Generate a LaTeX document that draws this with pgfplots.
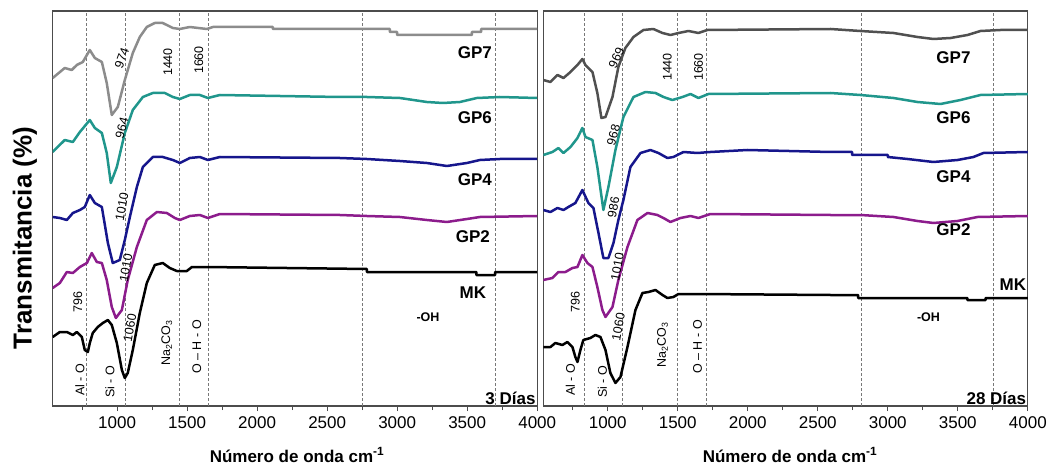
\documentclass[border=0pt]{standalone}
\usepackage{fontspec}
\setmainfont{Liberation Sans}
\usepackage{pgfplots}
\pgfplotsset{compat=1.18}

\definecolor{gpsevenA}{RGB}{140,140,140}
\definecolor{gpsevenB}{RGB}{80,80,80}
\definecolor{gpsix}{RGB}{32,150,140}
\definecolor{gpfour}{RGB}{22,22,140}
\definecolor{gptwo}{RGB}{140,28,140}
\definecolor{refline}{RGB}{120,120,120}

\tikzset{
  gp/.style={font=\bfseries\fontsize{17}{17}\selectfont},
  pk/.style={font=\fontsize{12.5}{12.5}\selectfont},
  pkb/.style={font=\bfseries\fontsize{12.5}{12.5}\selectfont},
}

\pgfplotsset{
  panel/.style={
    scale only axis, width=484.5pt, height=395pt, anchor=south west,
    xmin=540, xmax=4000, ymin=63, ymax=458,
    xtick={1000,1500,2000,2500,3000,3500,4000},
    xticklabels={1000,1500,2000,2500,3000,3500,4000},
    minor xtick={750,1250,1750,2250,2750,3250,3750},
    ytick=\empty, xtick pos=left,
    tick align=outside, major tick length=5pt, minor tick length=4pt,
    axis line style={line width=1.2pt, black!70},
    every tick/.style={black!70, line width=1pt},
    tick label style={font=\fontsize{17}{17}\selectfont, black},
    xticklabel style={yshift=-2pt},
  },
  spec/.style={line width=2.5pt, line join=round, no marks},
  band/.style={line width=0.6pt, refline, dash pattern=on 3pt off 2pt, no marks},
}

\begin{document}
\begin{tikzpicture}
\path[use as bounding box] (0,0) rectangle (1051pt,469pt);

% ---------------- 3 days ----------------
\begin{axis}[panel, at={(52.7pt,63pt)}]
\foreach \w in {780,1060,1445,1650,2750,3700}{
  \edef\tmp{\noexpand\addplot[band] coordinates {(\w,63) (\w,458)};}\tmp
}
% GP7
\addplot[spec, gpsevenA] coordinates {
(540,391) (626,401) (676,399) (712,404) (755,407) (805,419) (841,411) (891,407)
(926,386) (962,354) (1005,362) (1055,389) (1112,416) (1162,432) (1212,442)
(1269,446) (1326,446) (1398,441) (1448,440) (1519,442) (1641,440) (1684,442)
(2112,442) (2112,440) (2948,440) (2948,437) (3000,437) (3000,434) (3533,434)
(3533,437) (3600,437) (3600,440) (4000,440)};
% GP6
\addplot[spec, gpsix] coordinates {
(540,317) (626,329) (684,327) (734,337) (805,349) (841,341) (891,336) (926,316)
(955,286) (998,302) (1055,336) (1112,359) (1184,372) (1255,376) (1341,376)
(1398,372) (1448,370) (1519,374) (1591,374) (1648,371) (1734,374) (2591,372)
(2784,372) (3019,371) (3212,367) (3326,366) (3448,367) (3569,371) (3733,372)
(4000,371)};
% GP4
\addplot[spec, gpfour] coordinates {
(540,252) (591,251) (641,249) (684,256) (734,259) (769,262) (805,274) (841,266)
(891,262) (934,226) (969,206) (1019,209) (1055,229) (1091,252) (1141,282)
(1184,302) (1255,312) (1326,312) (1398,309) (1448,306) (1519,311) (1591,312)
(1648,309) (1734,312) (2591,311) (2784,310) (3019,308) (3212,306) (3355,303)
(3498,306) (3591,309) (3733,310) (4000,310)};
% GP2
\addplot[spec, gptwo] coordinates {
(540,181) (591,186) (641,197) (684,196) (734,202) (784,206) (819,216) (855,207)
(891,206) (926,189) (962,162) (991,151) (1034,159) (1076,189) (1141,222)
(1212,249) (1284,257) (1355,256) (1412,251) (1448,249) (1519,253) (1591,254)
(1648,251) (1734,255) (2591,254) (2784,253) (3019,252) (3212,249) (3355,247)
(3498,250) (3591,252) (4000,253)};
% MK
\addplot[spec, black] coordinates {
(540,132) (591,137) (641,137) (684,134) (712,137) (748,132) (769,119) (791,117)
(805,126) (826,136) (862,142) (898,146) (934,149) (962,144) (998,126) (1034,99)
(1055,91) (1076,96) (1112,119) (1162,156) (1212,186) (1269,204) (1326,206)
(1376,201) (1426,198) (1498,198) (1534,202) (1641,202) (2784,200) (2784,197)
(3565,197) (3565,194) (3700,194) (3700,197) (4000,197)};

\node[pk, rotate=70] at (axis cs:1034,411) {974};
\node[pk, rotate=90] at (axis cs:1363,407) {1440};
\node[pk, rotate=90] at (axis cs:1584,409) {1660};
\node[pk, rotate=75] at (axis cs:1034,341) {964};
\node[pk, rotate=80] at (axis cs:1034,262) {1010};
\node[pk, rotate=80] at (axis cs:1063,201) {1010};
\node[pk, rotate=90] at (axis cs:719,167) {796};
\node[pk, rotate=80] at (axis cs:1091,141) {1060};
\node[pk, rotate=90] at (axis cs:734,89) {Al - O};
\node[pk, rotate=90] at (axis cs:948,87) {Si - O};
\node[pk, rotate=90] at (axis cs:1355,126) {Na\textsubscript{2}CO\textsubscript{3}};
\node[pk, rotate=90] at (axis cs:1569,122) {O -- H - O};
\node[pkb] at (axis cs:3220,152) {-OH};
\node[gp] at (axis cs:3555,416) {GP7};
\node[gp] at (axis cs:3555,351) {GP6};
\node[gp] at (axis cs:3555,289) {GP4};
\node[gp] at (axis cs:3541,232) {GP2};
\node[gp] at (axis cs:3541,176) {MK};
\node[gp, anchor=south east, inner sep=1.5pt] at (rel axis cs:1,0) {3 Días};
\end{axis}

% ---------------- 28 days ----------------
\begin{axis}[panel, at={(543.3pt,63pt)}]
\foreach \w in {830,1107,1500,1703,2812,3750}{
  \edef\tmp{\noexpand\addplot[band] coordinates {(\w,63) (\w,458)};}\tmp
}
% GP7
\addplot[spec, gpsevenB] coordinates {
(540,389) (591,387) (641,394) (684,391) (734,397) (784,404) (819,410) (841,404)
(891,397) (926,376) (955,351) (984,352) (1034,372) (1076,402) (1126,421)
(1184,432) (1255,439) (1326,440) (1391,436) (1448,434) (1505,436) (1576,438)
(1648,436) (1712,439) (2591,440) (2805,438) (3041,436) (3212,432) (3326,430)
(3448,431) (3569,434) (3662,438) (3805,439) (4000,439)};
% GP6
\addplot[spec, gpsix] coordinates {
(540,314) (605,317) (648,321) (684,316) (734,322) (784,331) (819,341) (841,332)
(891,329) (926,302) (969,259) (1005,282) (1055,319) (1112,352) (1184,372)
(1269,377) (1341,376) (1398,372) (1462,369) (1534,372) (1591,375) (1648,371)
(1719,375) (2591,376) (2805,374) (3041,371) (3212,367) (3376,365) (3519,369)
(3662,374) (4000,375)};
% GP4
\addplot[spec, gpfour] coordinates {
(540,259) (591,257) (641,261) (684,259) (719,262) (769,266) (819,279) (862,266)
(898,261) (934,236) (969,211) (1005,211) (1041,226) (1076,249) (1112,269)
(1162,302) (1234,316) (1305,319) (1362,316) (1426,311) (1469,312) (1541,317)
(1641,316) (1733,317) (1998,319) (2591,317) (2745,317) (2745,314) (3000,314)
(3000,312) (3141,310) (3326,307) (3498,309) (3612,312) (3683,316) (4000,317)};
% GP2
\addplot[spec, gptwo] coordinates {
(540,189) (605,191) (648,197) (698,197) (748,201) (784,202) (819,214) (855,206)
(891,202) (926,182) (962,159) (984,152) (1034,162) (1076,189) (1141,222)
(1212,249) (1284,256) (1355,254) (1398,251) (1448,247) (1519,251) (1591,253)
(1648,251) (1733,255) (2591,254) (2805,254) (3041,252) (3212,248) (3326,246)
(3498,248) (3641,252) (4000,253)};
% MK
\addplot[spec, black] coordinates {
(540,122) (591,122) (626,126) (676,124) (712,127) (748,122) (769,112) (784,107)
(805,119) (826,129) (876,131) (912,134) (948,132) (984,119) (1019,96) (1055,86)
(1091,92) (1141,122) (1198,159) (1248,176) (1291,177) (1341,179) (1391,174)
(1426,171) (1469,172) (1505,175) (1641,175) (2591,174) (2788,174) (2788,171)
(3569,171) (3569,169) (3698,169) (3698,171) (4000,171)};

\node[pk, rotate=65] at (axis cs:1062,411) {969};
\node[pk, rotate=90] at (axis cs:1426,402) {1440};
\node[pk, rotate=90] at (axis cs:1648,402) {1660};
\node[pk, rotate=75] at (axis cs:1041,334) {968};
\node[pk, rotate=80] at (axis cs:1041,262) {986};
\node[pk, rotate=80] at (axis cs:1069,202) {1010};
\node[pk, rotate=90] at (axis cs:769,167) {796};
\node[pk, rotate=80] at (axis cs:1076,142) {1060};
\node[pk, rotate=90] at (axis cs:734,89) {Al - O};
\node[pk, rotate=90] at (axis cs:962,87) {Si - O};
\node[pk, rotate=90] at (axis cs:1391,124) {Na\textsubscript{2}CO\textsubscript{3}};
\node[pk, rotate=90] at (axis cs:1641,122) {O -- H - O};
\node[pkb] at (axis cs:3291,152) {-OH};
\node[gp] at (axis cs:3469,411) {GP7};
\node[gp] at (axis cs:3469,351) {GP6};
\node[gp] at (axis cs:3469,292) {GP4};
\node[gp] at (axis cs:3469,239) {GP2};
\node[gp, anchor=east, inner sep=1.5pt] at (axis cs:4000,184) {MK};
\node[gp, anchor=south east, inner sep=1.5pt] at (rel axis cs:1,0) {28 Días};
\end{axis}

% shared labels
\node[rotate=90, font=\bfseries\fontsize{26}{26}\selectfont] at (25pt,231pt) {Transmitancia (\%)};
\node[font=\bfseries\fontsize{17}{17}\selectfont] at (297pt,14pt) {Número de onda cm\textsuperscript{-1}};
\node[font=\bfseries\fontsize{17}{17}\selectfont] at (790pt,14pt) {Número de onda cm\textsuperscript{-1}};
\end{tikzpicture}
\end{document}
